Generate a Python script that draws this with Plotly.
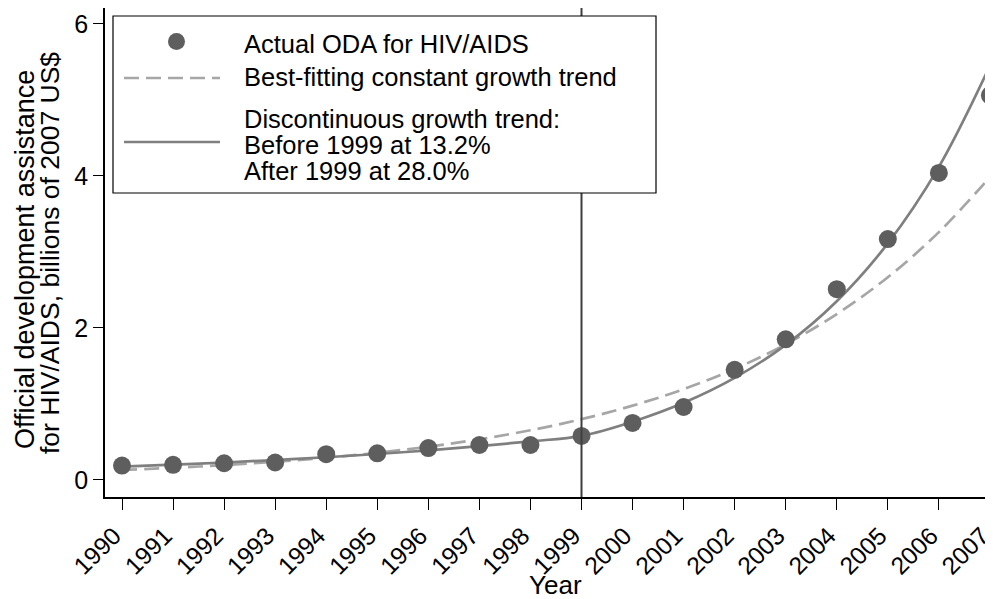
import plotly.graph_objects as go

years = list(range(1990, 2008))
year_labels = [str(y) for y in years]

# Actual ODA for HIV/AIDS (billions of 2007 US$)
actual_oda = [0.19, 0.20, 0.22, 0.23, 0.34, 0.35, 0.42, 0.46, 0.46, 0.58,
              0.75, 0.96, 1.45, 1.85, 2.51, 3.17, 4.04, 5.06]

# Best-fitting constant growth trend
constant_trend = [0.131, 0.160, 0.196, 0.240, 0.293, 0.358, 0.438, 0.535, 0.654, 0.800,
                  0.978, 1.195, 1.461, 1.786, 2.183, 2.668, 3.261, 3.986]

# Discontinuous growth trend
discont_trend = [0.176, 0.201, 0.230, 0.262, 0.299, 0.342, 0.390, 0.445, 0.508, 0.580,
                 0.767, 1.016, 1.344, 1.778, 2.352, 3.113, 4.119, 5.450]

y_ticks = [0, 2, 4, 6]
break_year = 1999

legend_labels = ["Actual ODA for HIV/AIDS",
                 "Best-fitting constant growth trend",
                 "Discontinuous growth trend:",
                 "Before 1999 at 13.2%",
                 "After 1999 at 28.0%"]
y_title_lines = ["Official development assistance",
                 "for HIV/AIDS, billions of 2007 US$"]
x_title = "Year"

FONT = "Liberation Sans, Arial, Helvetica, sans-serif"
MARKER_COLOR = "#5e5e5e"
DASH_COLOR = "#a6a6a6"
SOLID_COLOR = "#7f7f7f"
DASH_STYLE = "15px,7px"

# the page body adds an 8px offset, so the figure is sized to the visible window
OFF = 8
W, H = 993 - OFF, 599 - OFF
ML, MR, MT, MB = 97, 0, 0, 102
PW, PH = W - ML - MR, H - MT - MB


def px(x):  # screen pixel -> paper x
    return (x - OFF - ML) / PW


def py(y):  # screen pixel -> paper y
    return (H - MB - (y - OFF)) / PH


fig = go.Figure()

fig.add_trace(go.Scatter(
    x=years, y=constant_trend, mode="lines", line_shape="spline",
    name="Best-fitting constant growth trend",
    line=dict(color=DASH_COLOR, width=2.7, dash=DASH_STYLE),
))
fig.add_trace(go.Scatter(
    x=years, y=discont_trend, mode="lines", line_shape="spline",
    name="Discontinuous growth trend",
    line=dict(color=SOLID_COLOR, width=2.7),
))
fig.add_trace(go.Scatter(
    x=years, y=actual_oda, mode="markers", name="Actual ODA for HIV/AIDS",
    marker=dict(size=18, color=MARKER_COLOR),
))

# vertical reference line at the break year
fig.add_shape(type="line", xref="x", yref="y domain", x0=break_year, x1=break_year,
              y0=0, y1=1, line=dict(color="#3f3f3f", width=2))

# ---- legend box (drawn manually to mimic the original layout) ----
shapes = [
    dict(type="rect", xref="paper", yref="paper", x0=px(113), x1=px(656),
         y0=py(193), y1=py(16), line=dict(color="black", width=1.2),
         fillcolor="white", layer="above"),
    dict(type="circle", xref="paper", yref="paper", x0=px(168), x1=px(185),
         y0=py(50), y1=py(33), line=dict(width=0), fillcolor=MARKER_COLOR, layer="above"),
    dict(type="line", xref="paper", yref="paper", x0=px(124), x1=px(220),
         y0=py(78), y1=py(78), line=dict(color=DASH_COLOR, width=2.7, dash=DASH_STYLE),
         layer="above"),
    dict(type="line", xref="paper", yref="paper", x0=px(124), x1=px(220),
         y0=py(142), y1=py(142), line=dict(color=SOLID_COLOR, width=2.7), layer="above"),
]
for s in shapes:
    fig.add_shape(**s)

legend_y = [44, 77, 119, 145, 171]
for txt, yy in zip(legend_labels, legend_y):
    fig.add_annotation(text=txt, xref="paper", yref="paper", x=px(242), y=py(yy),
                       xanchor="left", yanchor="middle", showarrow=False,
                       font=dict(size=25.5, family=FONT, color="black"))

# axis titles
fig.add_annotation(text=y_title_lines[0], xref="paper", yref="paper", x=px(25), y=py(260),
                   xanchor="center", yanchor="middle", textangle=-90, showarrow=False,
                   borderpad=0, font=dict(size=27, family=FONT, color="black"))
fig.add_annotation(text=y_title_lines[1], xref="paper", yref="paper", x=px(50), y=py(253),
                   xanchor="center", yanchor="middle", textangle=-90, showarrow=False,
                   borderpad=0, font=dict(size=26.5, family=FONT, color="black"))
fig.add_annotation(text=x_title, xref="paper", yref="paper", x=px(555), y=py(585),
                   xanchor="center", yanchor="middle", showarrow=False,
                   font=dict(size=26, family=FONT, color="black"))

fig.update_layout(
    width=W, height=H,
    margin=dict(l=ML, r=MR, t=MT, b=MB, autoexpand=False),
    paper_bgcolor="white", plot_bgcolor="white",
    font=dict(family=FONT, color="black", size=24),
    showlegend=False,
    xaxis=dict(
        range=[1989.667, 2007.06], tickvals=years, ticktext=year_labels,
        tickangle=-45, ticks="outside", ticklen=11, tickcolor="black", tickwidth=1.2,
        showline=True, mirror=True, linecolor="black", linewidth=1.5,
        showgrid=False, zeroline=False, automargin=False,
        ticklabeloverflow="allow", ticklabelshift=-8, ticklabelstandoff=2,
        tickfont=dict(size=24.5),
    ),
    yaxis=dict(
        range=[-0.224, 6.21], tickvals=y_ticks, ticks="outside", ticklen=10,
        tickcolor="black", tickwidth=1.2, showline=True, mirror=False, linecolor="black",
        linewidth=1.5, showgrid=False, zeroline=False, automargin=False,
        tickfont=dict(size=25),
    ),
)

fig.write_html("out.html")
